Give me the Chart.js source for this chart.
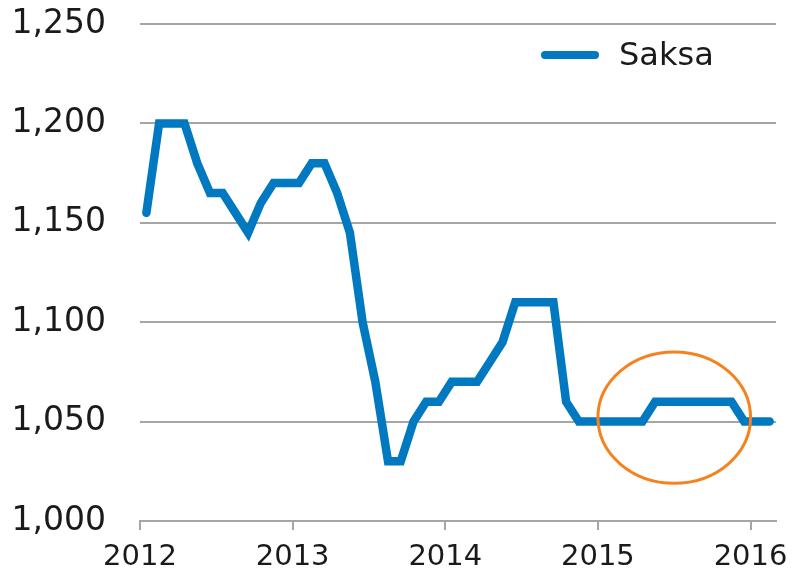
<!DOCTYPE html>
<html>
<head>
<meta charset="utf-8">
<script src="https://cdn.jsdelivr.net/npm/chart.js@4/dist/chart.umd.min.js"></script>
<style>
  html, body { margin: 0; padding: 0; background: #fff; }
  #wrap { width: 797px; height: 573px; }
</style>
</head>
<body>
<div id="wrap"><canvas id="c" width="797" height="573"></canvas></div>
<script>
// ---- data ----
const seriesLabel = 'Saksa';
const months = [
  '2012-01','2012-02','2012-03','2012-04','2012-05','2012-06','2012-07','2012-08','2012-09','2012-10','2012-11','2012-12',
  '2013-01','2013-02','2013-03','2013-04','2013-05','2013-06','2013-07','2013-08','2013-09','2013-10','2013-11','2013-12',
  '2014-01','2014-02','2014-03','2014-04','2014-05','2014-06','2014-07','2014-08','2014-09','2014-10','2014-11','2014-12',
  '2015-01','2015-02','2015-03','2015-04','2015-05','2015-06','2015-07','2015-08','2015-09','2015-10','2015-11','2015-12',
  '2016-01','2016-02'
];
const values = [
  1155,1200,1200,1200,1180,1165,1165,1155,1145,1160,1170,1170,
  1170,1180,1180,1165,1145,1100,1070,1030,1030,1050,1060,1060,
  1070,1070,1070,1080,1090,1110,1110,1110,1110,1060,1050,1050,
  1050,1050,1050,1050,1060,1060,1060,1060,1060,1060,1060,1050,
  1050,1050
];
const yearTicks = [2012, 2013, 2014, 2015, 2016];
const yTicks = [1000, 1050, 1100, 1150, 1200, 1250];
// highlighted region (data units): x from 2015 to 2016, y from 1019 to 1085
const highlightX = [2015.0, 2016.0];
const highlightY = [1019, 1085];

// month string -> mid-month decimal year
function monthToX(m) {
  const [y, mo] = m.split('-').map(Number);
  return y + (mo - 0.5) / 12;
}
const points = months.map((m, i) => ({ x: monthToX(m), y: values[i] }));

const BLUE = '#0079C1';
const ORANGE = '#F5821F';
const GRID = '#A6A6A6';
const FONT = "'DejaVu Sans', sans-serif";

const overlay = {
  id: 'overlay',
  afterDatasetsDraw(chart) {
    const { ctx, scales: { x, y } } = chart;
    // ellipse
    const x0 = x.getPixelForValue(highlightX[0]);
    const x1 = x.getPixelForValue(highlightX[1]);
    const y0 = y.getPixelForValue(highlightY[1]);
    const y1 = y.getPixelForValue(highlightY[0]);
    ctx.save();
    ctx.beginPath();
    ctx.ellipse((x0 + x1) / 2, (y0 + y1) / 2, (x1 - x0) / 2, (y1 - y0) / 2, 0, 0, Math.PI * 2);
    ctx.strokeStyle = ORANGE;
    ctx.lineWidth = 3;
    ctx.stroke();
    ctx.restore();
    // legend
    ctx.save();
    ctx.strokeStyle = BLUE;
    ctx.lineWidth = 8;
    ctx.lineCap = 'round';
    ctx.beginPath();
    ctx.moveTo(545, 55);
    ctx.lineTo(595, 55);
    ctx.stroke();
    ctx.fillStyle = '#1a1a1a';
    ctx.font = "32px " + FONT;
    ctx.textBaseline = 'middle';
    ctx.textAlign = 'left';
    ctx.fillText(chart.data.datasets[0].label, 619, 57);
    ctx.restore();
  }
};

new Chart(document.getElementById('c'), {
  type: 'line',
  data: {
    datasets: [{
      label: seriesLabel,
      data: points,
      borderColor: BLUE,
      backgroundColor: BLUE,
      borderWidth: 8.5,
      borderCapStyle: 'round',
      borderJoinStyle: 'miter',
      pointRadius: 0,
      tension: 0,
      fill: false
    }]
  },
  options: {
    responsive: false,
    animation: false,
    layout: { padding: { top: 24, right: 21, bottom: 0, left: 0 } },
    plugins: { legend: { display: false }, tooltip: { enabled: false } },
    scales: {
      x: {
        type: 'linear',
        min: 2012,
        max: 2016 + 2 / 12,
        afterBuildTicks(scale) { scale.ticks = yearTicks.map(v => ({ value: v })); },
        afterFit(scale) { scale.height = 52; scale.paddingLeft = 0; scale.paddingRight = 0; },
        ticks: {
          font: { family: FONT, size: 29 },
          color: '#1a1a1a',
          padding: 10,
          maxRotation: 0,
          autoSkip: false,
          callback: v => String(v)
        },
        grid: { drawOnChartArea: false, drawTicks: true, tickLength: 9, color: GRID, lineWidth: 2 },
        border: { display: true, color: GRID, width: 2 }
      },
      y: {
        min: 1000,
        max: 1250,
        afterBuildTicks(scale) { scale.ticks = yTicks.map(v => ({ value: v })); },
        afterFit(scale) { scale.width = 140; scale.paddingTop = 0; scale.paddingBottom = 0; },
        ticks: {
          font: { family: FONT, size: 33 },
          color: '#1a1a1a',
          padding: 34,
          callback: v => v.toLocaleString('en-US')
        },
        grid: { drawTicks: false, color: GRID, lineWidth: 2 },
        border: { display: false }
      }
    }
  },
  plugins: [overlay]
});
</script>
</body>
</html>
